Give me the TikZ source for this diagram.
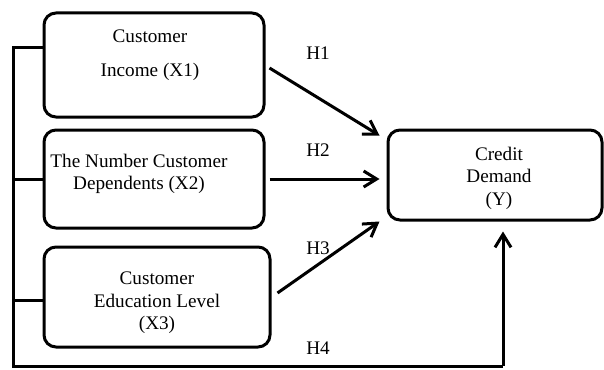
\documentclass[tikz,border=0pt]{standalone}
\usepackage{fontspec}
\setmainfont{Liberation Serif}
\usetikzlibrary{arrows.meta,positioning}

\begin{document}
\begin{tikzpicture}[
    x=0.5pt, y=-0.5pt,
    >={Straight Barb[length=6.5pt,width=8pt]},
    varbox/.style={rectangle, rounded corners=6pt, draw=black, line width=1.5pt, inner sep=0pt},
    caption/.style={align=center, font=\fontsize{9.6}{11.3}\selectfont},
    hlabel/.style={font=\fontsize{9.6}{11.3}\selectfont},
    link/.style={line width=1.5pt},
    arrow/.style={->, line width=1.5pt}
]
\useasboundingbox (0,0) rectangle (604,369);

% Independent variables
\node[varbox, minimum width=110pt, minimum height=52pt] (income) at (154,65) {};
\node[varbox, minimum width=110pt, minimum height=49pt] (dependents) at (154,179) {};
\node[varbox, minimum width=113pt, minimum height=50pt] (education) at (157,297) {};

% Dependent variable
\node[varbox, minimum width=107pt, minimum height=45pt] (demand) at (495,175) {};

% Box texts
\node[caption] (income-text) at (150,55) {Customer\\[6pt]Income (X1)};
\node[caption] (dependents-text) at (139,174) {The Number Customer\\Dependents (X2)};
\node[caption] (education-text) at (157,303) {Customer\\Education Level\\(X3)};
\node[caption] (demand-text) at (499,178) {Credit\\Demand\\(Y)};

% Hypotheses
\node[hlabel] (h1) at (318,53) {H1};
\node[hlabel] (h2) at (318,150) {H2};
\node[hlabel] (h3) at (318,248) {H3};
\node[hlabel] (h4) at (318,348) {H4};

% Joint path of all three variables (H4)
\coordinate (trunk-top) at (13,48);
\coordinate (trunk-foot) at (13,366);
\coordinate (h4-foot) at (503,366);
\draw[link] (income.west |- trunk-top) -- (trunk-top) -- (trunk-foot) -- (h4-foot);
\draw[link] (dependents.west) -- (dependents.west -| trunk-top);
\draw[link] ([yshift=-1.5pt]education.west) -- ([yshift=-1.5pt]education.west -| trunk-top);
\draw[arrow] (h4-foot) -- ([yshift=-5pt]h4-foot |- demand.south);

% Partial paths H1 - H3
\draw[arrow] ([xshift=2pt,yshift=-1.5pt]income.east) -- ([xshift=-3.5pt,yshift=-3.5pt]demand.north west);
\draw[arrow] ([xshift=2pt]dependents.east) -- ([xshift=-3.5pt]dependents.east -| demand.west);
\draw[arrow] ([xshift=3pt,yshift=2pt]education.east) -- ([xshift=-3.5pt]demand.south west);

\end{tikzpicture}
\end{document}
